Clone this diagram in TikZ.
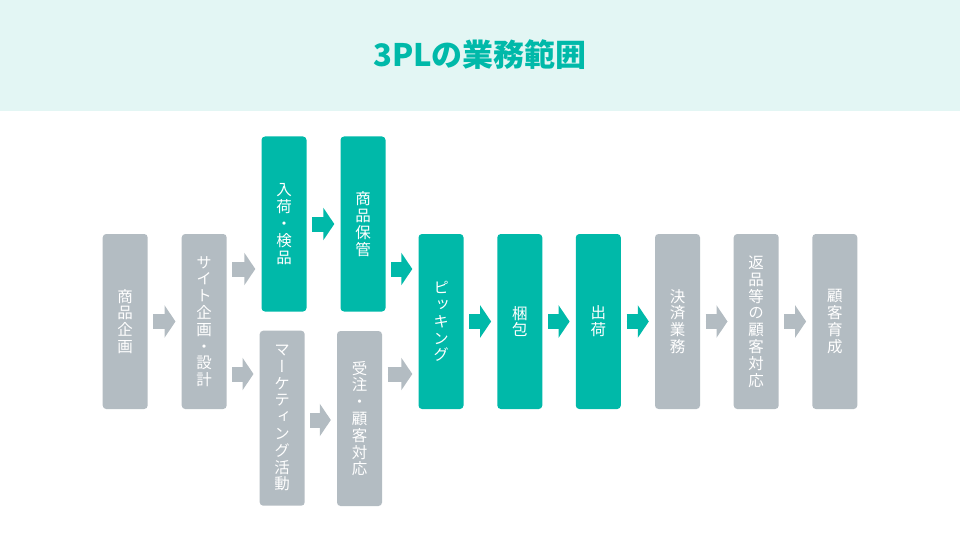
\documentclass[tikz,border=0pt]{standalone}
\usepackage{fontspec}
\usetikzlibrary{arrows.meta}
\newfontfamily\jp{Noto Sans CJK JP}
\newfontfamily\jpv[RawFeature=+vert]{Noto Sans CJK JP}
\definecolor{tealc}{HTML}{00B9A9}
\definecolor{greyc}{HTML}{B3BCC2}
\definecolor{bandc}{HTML}{E3F6F4}
\tikzset{
  box/.style={rounded corners=3.5pt, minimum width=45pt, minimum height=175pt, inner sep=0pt,
    align=center, text=white, font=\jpv\fontsize{15.5}{16.8}\selectfont},
  tbox/.style={box, fill=tealc},
  gbox/.style={box, fill=greyc},
  barrow/.style={line width=15pt, -{Triangle[length=11pt,width=32pt]}, shorten <=5.5pt, shorten >=6pt},
  tarrow/.style={barrow, draw=tealc, fill=tealc},
  garrow/.style={barrow, draw=greyc, fill=greyc},
}
\begin{document}
\begin{tikzpicture}[x=1pt,y=-1pt]
\useasboundingbox (0,0) rectangle (960,540);
\fill[bandc] (0,0) rectangle (960,111);
\node[text=tealc, font=\jp\bfseries\fontsize{31}{36}\selectfont, inner sep=0pt] (title) at (480,55) {3PLの業務範囲};

\node[gbox] (n1) at (125.2,321.5) {商\\品\\企\\画};
\node[gbox] (n2) at (204.2,321.5) {サ\\イ\\ト\\企\\画\\・\\設\\計};
\node[tbox] (n3) at (284,224) {入\\荷\\・\\検\\品};
\node[tbox] (n4) at (363,224) {商\\品\\保\\管};
\node[gbox] (n11) at (282.2,418.2) {マ\\ー\\ケ\\テ\\ィ\\ン\\グ\\活\\動};
\node[gbox] (n12) at (359.5,418.5) {受\\注\\・\\顧\\客\\対\\応};
\node[tbox] (n5) at (441,321.5) {ピ\\ッ\\キ\\ン\\グ};
\node[tbox] (n6) at (519.8,321.5) {梱\\包};
\node[tbox] (n7) at (598.3,321.5) {出\\荷};
\node[gbox] (n8) at (677.5,321.5) {決\\済\\業\\務};
\node[gbox] (n9) at (756.2,321.5) {返\\品\\等\\の\\顧\\客\\対\\応};
\node[gbox] (n10) at (834.8,321.5) {顧\\客\\育\\成};

\draw[garrow] (n1.east) -- (n2.west);
\draw[garrow] (n2.east |- 0,269) -- (n3.west |- 0,269);
\draw[garrow] (n2.east |- 0,374) -- (n11.west |- 0,374);
\draw[tarrow] (n3.east) -- (n4.west);
\draw[tarrow] (n4.east |- 0,269) -- (n5.west |- 0,269);
\draw[garrow] (n11.east |- 0,420) -- (n12.west |- 0,420);
\draw[garrow] (n12.east |- 0,374) -- (n5.west |- 0,374);
\draw[tarrow] (n5.east) -- (n6.west);
\draw[tarrow] (n6.east) -- (n7.west);
\draw[tarrow] (n7.east) -- (n8.west);
\draw[garrow] (n8.east) -- (n9.west);
\draw[garrow] (n9.east) -- (n10.west);
\end{tikzpicture}
\end{document}
